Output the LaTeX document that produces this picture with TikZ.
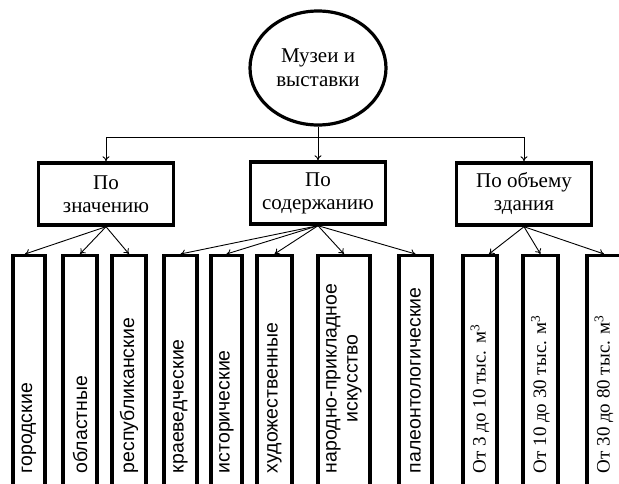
\documentclass[tikz,border=0pt]{standalone}
\usepackage{fontspec}
\setmainfont{Liberation Serif}
\newfontfamily\sansru{Liberation Sans}
\usetikzlibrary{positioning, shapes.geometric, arrows.meta}

\begin{document}
\begin{tikzpicture}[x=1pt, y=-1pt,
    top/.style={draw, ellipse, line width=3.2pt, minimum width=136pt, minimum height=114pt, inner sep=0pt, align=center, font=\fontsize{21}{24}\selectfont},
    cat/.style={draw, rectangle, line width=3.4pt, minimum width=135pt, minimum height=62pt, align=center, font=\fontsize{21}{23}\selectfont},
    leaf/.style={draw, rectangle, line width=3.4pt, minimum height=240pt, anchor=north, inner sep=0pt},
    vtext/.style={rotate=90, anchor=west, inner sep=0pt, align=center, font=\sansru\fontsize{19.5}{21}\selectfont},
    vnum/.style={rotate=90, anchor=west, inner sep=0pt, align=center, font=\fontsize{19}{21}\selectfont},
    arr/.style={line width=0.9pt, -{To[length=5pt, width=7pt]}}]
    \useasboundingbox (0,0) rectangle (619,483);
    \clip (0,0) rectangle (619,483);

    % top level
    \node[top] (museum) at (318,68) {Музеи и\\выставки};
    \coordinate (bar) at (318,137);

    % groups
    \node[cat] (byvalue) at (106,194) {По\\значению};
    \node[cat] (bycontent) at (318,193) {По\\содержанию};
    \node[cat] (byvolume) at (524,194) {По объему\\здания};

    \draw[arr] (museum) -- (bycontent);
    \draw[arr] (bar) -| (byvalue);
    \draw[arr] (bar) -| (byvolume);

    % leaves
    \node[leaf, minimum width=32pt] (city) at (29,254) {};
    \node[leaf, minimum width=34pt] (region) at (80,254) {};
    \node[leaf, minimum width=34pt] (republic) at (129,254) {};
    \node[leaf, minimum width=33pt] (local) at (180.5,254) {};
    \node[leaf, minimum width=31pt] (history) at (226.5,254) {};
    \node[leaf, minimum width=35pt] (art) at (274.5,254) {};
    \node[leaf, minimum width=52pt] (folk) at (344,254) {};
    \node[leaf, minimum width=33pt] (paleo) at (415.5,254) {};
    \node[leaf, minimum width=34pt] (vola) at (480,254) {};
    \node[leaf, minimum width=35pt] (volb) at (540.5,254) {};
    \node[leaf, minimum width=34pt] (volc) at (604,254) {};

    \node[vtext] at ([yshift=24pt]city.south) {городские};
    \node[vtext] at ([yshift=24pt]region.south) {областные};
    \node[vtext] at ([yshift=24pt]republic.south) {республиканские};
    \node[vtext] at ([yshift=24pt]local.south) {краеведческие};
    \node[vtext] at ([yshift=24pt]history.south) {исторические};
    \node[vtext] at ([yshift=24pt]art.south) {художественные};
    \node[vtext] at ([yshift=24pt]folk.south) {народно-прикладное\\искусство};
    \node[vtext] at ([yshift=24pt]paleo.south) {палеонтологические};
    \node[vnum] at ([yshift=24pt]vola.south) {От 3 до 10 тыс. м\textsuperscript{3}};
    \node[vnum] at ([yshift=24pt]volb.south) {От 10 до 30 тыс. м\textsuperscript{3}};
    \node[vnum] at ([yshift=24pt]volc.south) {От 30 до 80 тыс. м\textsuperscript{3}};

    % connectors
    \draw[arr] (byvalue.south) -- ([xshift=-4pt]city.north);
    \draw[arr] (byvalue.south) -- (region.north);
    \draw[arr] (byvalue.south) -- (republic.north);
    \draw[arr] (bycontent.south) -- (local.north);
    \draw[arr] (bycontent.south) -- (history.north);
    \draw[arr] (bycontent.south) -- (art.north);
    \draw[arr] (bycontent.south) -- (folk.north);
    \draw[arr] (bycontent.south) -- (paleo.north);
    \draw[arr] (byvolume.south) -- ([xshift=9pt]vola.north);
    \draw[arr] (byvolume.south) -- (volb.north);
    \draw[arr] (byvolume.south) -- (volc.north);
\end{tikzpicture}
\end{document}
